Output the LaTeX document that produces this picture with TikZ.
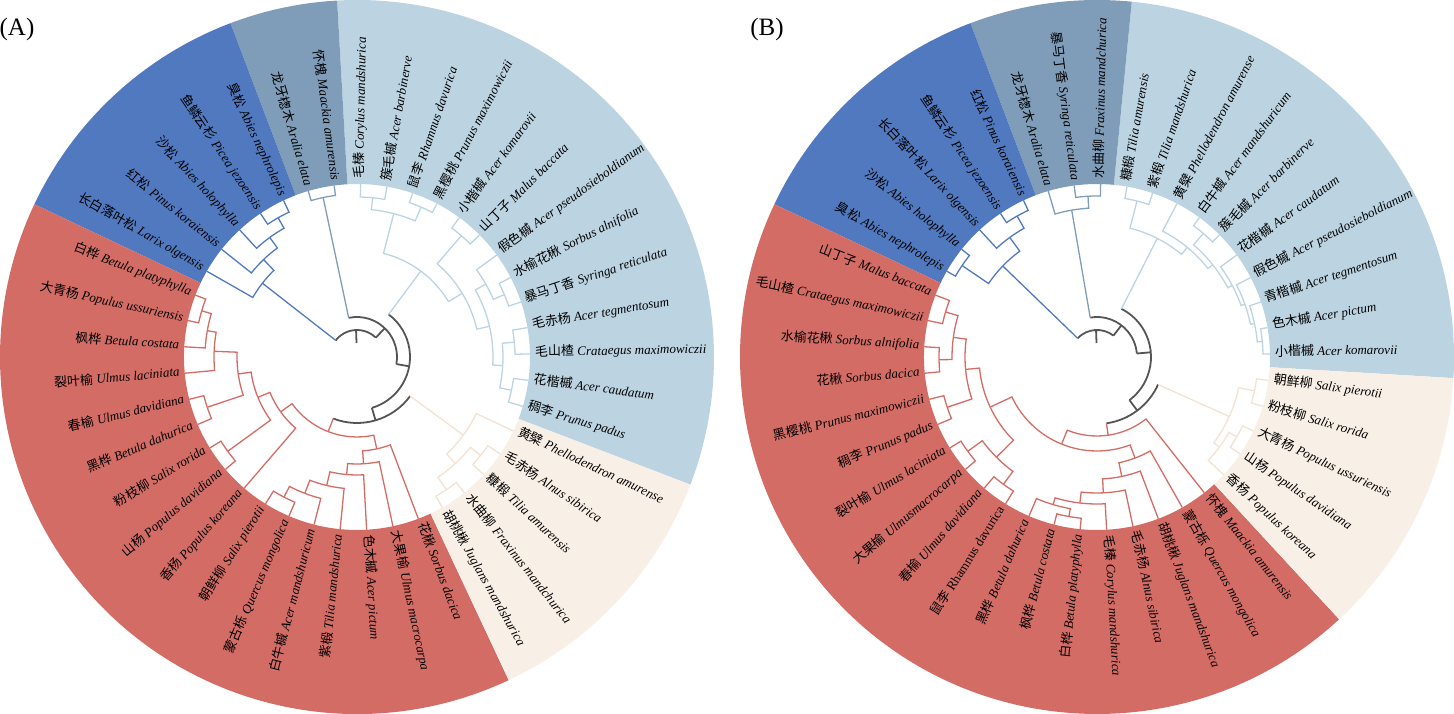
\documentclass[tikz,border=0pt]{standalone}
\usepackage{fontspec}
\setmainfont{Liberation Serif}
\newfontfamily\zhfont{Noto Sans CJK SC}
\usepackage{tikz}

\definecolor{secLB}{HTML}{BCD4E2}
\definecolor{secGB}{HTML}{7F9DB9}
\definecolor{secBL}{HTML}{5079BF}
\definecolor{secRD}{HTML}{D46C66}
\definecolor{secCR}{HTML}{F8EFE6}
\definecolor{lnCR}{HTML}{F2E2D3}
\definecolor{rootgray}{HTML}{555555}

\tikzset{
    lbl/.style={font=\fontsize{13}{15}\selectfont, inner sep=0pt},
    tag/.style={font=\fontsize{25}{29}\selectfont, inner sep=0pt},
    rootln/.style={color=rootgray, line width=1.8},
    lbln/.style={color=secLB, line width=1.3},
    gbln/.style={color=secGB, line width=1.3},
    blln/.style={color=secBL, line width=1.3},
    rdln/.style={color=secRD, line width=1.3},
    crln/.style={color=lnCR, line width=1.3}
}

% species label: chinese name + latin name
\newcommand{\spn}[2]{{\zhfont #1} \textit{#2}}
% coloured ring sector between two angles
\newcommand{\ringsec}[3]{\fill[#1] (#2:173) arc[start angle=#2,end angle=#3,radius=173] -- (#3:357) arc[start angle=#3,end angle=#2,radius=357] -- cycle;}
% elbow from parent (angle, radius) to child (angle, radius)
\newcommand{\brch}[4]{\draw (#1:#2) arc[start angle=#1,end angle=#3,radius=#2] -- (#3:#4);}
\newcommand{\hubarc}[3]{\draw[rootln] (#2:#1) arc[start angle=#2,end angle=#3,radius=#1];}
\newcommand{\stemln}[4]{\draw[#1] (#2:#3) -- (#2:#4);}
\newcommand{\leaflab}[3]{%
    \pgfmathtruncatemacro{\flip}{(#2>90 && #2<270) ? 1 : 0}%
    \ifnum\flip=1
        \node[lbl, anchor=mid east, rotate=#2-180] (#1) at (#2:178) {#3};%
    \else
        \node[lbl, anchor=mid west, rotate=#2] (#1) at (#2:178) {#3};%
    \fi}

\begin{document}
\begin{tikzpicture}[x=1pt, y=1pt]
\path[use as bounding box] (0,0) rectangle (1454,714);

\node[tag] (tagA) at (17,684) {(A)};
\node[tag] (tagB) at (767,684) {(B)};

% ---------------- tree A ----------------
\begin{scope}[shift={(357,357)}]
    \ringsec{secLB}{-20.95}{93.19}
    \ringsec{secGB}{93.19}{110.76}
    \ringsec{secBL}{110.76}{154.66}
    \ringsec{secRD}{154.66}{295.15}
    \ringsec{secCR}{295.15}{339.05}

    \stemln{rootln}{92}{14}{27}
    \hubarc{27}{142.04}{45.92}
    \stemln{blln}{142.04}{27}{120}
    \stemln{rootln}{45.92}{27}{40}
    \hubarc{40}{101.98}{-10.15}
    \stemln{gbln}{101.98}{40}{163}
    \stemln{rootln}{-10.15}{40}{53}
    \hubarc{53}{53.41}{-73.7}
    \stemln{lbln}{53.41}{53}{107}
    \stemln{rootln}{-73.7}{53}{66}
    \hubarc{66}{-36.32}{-111.09}
    \stemln{crln}{-36.32}{66}{132}
    \stemln{rdln}{-111.09}{66}{80}

    \begin{scope}[blln]
        \brch{142.04}{120}{133.81}{135}
        \brch{142.04}{120}{150.27}{173}
        \brch{133.81}{135}{126.13}{148}
        \brch{133.81}{135}{141.49}{173}
        \brch{126.13}{148}{119.54}{160}
        \brch{126.13}{148}{132.71}{173}
        \brch{119.54}{160}{115.15}{173}
        \brch{119.54}{160}{123.93}{173}
    \end{scope}
    \begin{scope}[gbln]
        \brch{101.98}{163}{97.59}{173}
        \brch{101.98}{163}{106.37}{173}
    \end{scope}
    \begin{scope}[lbln]
        \brch{53.41}{107}{75.63}{148}
        \brch{53.41}{107}{31.18}{123}
        \brch{75.63}{148}{84.41}{160}
        \brch{75.63}{148}{66.85}{163}
        \brch{84.41}{160}{88.80}{173}
        \brch{84.41}{160}{80.02}{173}
        \brch{66.85}{163}{71.24}{173}
        \brch{66.85}{163}{62.46}{173}
        \brch{31.18}{123}{49.29}{160}
        \brch{31.18}{123}{13.07}{136}
        \brch{49.29}{160}{53.68}{173}
        \brch{49.29}{160}{44.90}{173}
        \brch{13.07}{136}{29.54}{148}
        \brch{13.07}{136}{-3.39}{146}
        \brch{29.54}{148}{36.12}{173}
        \brch{29.54}{148}{22.95}{160}
        \brch{22.95}{160}{27.34}{173}
        \brch{22.95}{160}{18.56}{173}
        \brch{-3.39}{146}{5.39}{158}
        \brch{-3.39}{146}{-12.17}{158}
        \brch{5.39}{158}{9.78}{173}
        \brch{5.39}{158}{1.00}{173}
        \brch{-12.17}{158}{-7.78}{173}
        \brch{-12.17}{158}{-16.56}{173}
    \end{scope}
    \begin{scope}[crln]
        \brch{-36.32}{132}{-47.29}{145}
        \brch{-36.32}{132}{-25.34}{173}
        \brch{-47.29}{145}{-56.07}{160}
        \brch{-47.29}{145}{-38.51}{158}
        \brch{-56.07}{160}{-60.46}{173}
        \brch{-56.07}{160}{-51.68}{173}
        \brch{-38.51}{158}{-42.90}{173}
        \brch{-38.51}{158}{-34.12}{173}
    \end{scope}
    \begin{scope}[rdln]
        \brch{248.91}{80}{215.71}{94}
        \brch{248.91}{80}{282.12}{94}
        \brch{215.71}{94}{202.13}{107}
        \brch{215.71}{94}{229.29}{173}
        \brch{202.13}{107}{188.13}{120}
        \brch{202.13}{107}{216.12}{160}
        \brch{188.13}{120}{177.71}{143}
        \brch{188.13}{120}{198.56}{158}
        \brch{177.71}{143}{170.02}{152}
        \brch{177.71}{143}{185.39}{173}
        \brch{170.02}{152}{163.44}{162}
        \brch{170.02}{152}{176.61}{173}
        \brch{163.44}{162}{159.05}{173}
        \brch{163.44}{162}{167.83}{173}
        \brch{198.56}{158}{194.17}{173}
        \brch{198.56}{158}{202.95}{173}
        \brch{216.12}{160}{211.73}{173}
        \brch{216.12}{160}{220.51}{173}
        \brch{282.12}{94}{273.47}{107}
        \brch{282.12}{94}{290.76}{173}
        \brch{273.47}{107}{264.97}{118}
        \brch{273.47}{107}{281.98}{173}
        \brch{264.97}{118}{256.73}{132}
        \brch{264.97}{118}{273.20}{173}
        \brch{256.73}{132}{249.05}{146}
        \brch{256.73}{132}{264.41}{173}
        \brch{249.05}{146}{242.46}{158}
        \brch{249.05}{146}{255.63}{173}
        \brch{242.46}{158}{238.07}{173}
        \brch{242.46}{158}{246.85}{173}
    \end{scope}

    \leaflab{A-juglans}{-60.46}{\spn{胡桃楸}{Juglans mandshurica}}
    \leaflab{A-fraxinus}{-51.68}{\spn{水曲柳}{Fraxinus mandchurica}}
    \leaflab{A-tiliaam}{-42.90}{\spn{糠椴}{Tilia amurensis}}
    \leaflab{A-alnus}{-34.12}{\spn{毛赤杨}{Alnus sibirica}}
    \leaflab{A-phello}{-25.34}{\spn{黄檗}{Phellodendron amurense}}
    \leaflab{A-padus}{-16.56}{\spn{稠李}{Prunus padus}}
    \leaflab{A-caud}{-7.78}{\spn{花楷槭}{Acer caudatum}}
    \leaflab{A-crat}{1.00}{\spn{毛山楂}{Crataegus maximowiczii}}
    \leaflab{A-tegm}{9.78}{\spn{毛赤杨}{Acer tegmentosum}}
    \leaflab{A-syringa}{18.56}{\spn{暴马丁香}{Syringa reticulata}}
    \leaflab{A-alnif}{27.34}{\spn{水榆花楸}{Sorbus alnifolia}}
    \leaflab{A-pseudo}{36.12}{\spn{假色槭}{Acer pseudosieboldianum}}
    \leaflab{A-malus}{44.90}{\spn{山丁子}{Malus baccata}}
    \leaflab{A-komar}{53.68}{\spn{小楷槭}{Acer komarovii}}
    \leaflab{A-prmax}{62.46}{\spn{黑樱桃}{Prunus maximowiczii}}
    \leaflab{A-rhamn}{71.24}{\spn{鼠李}{Rhamnus davurica}}
    \leaflab{A-barb}{80.02}{\spn{簇毛槭}{Acer barbinerve}}
    \leaflab{A-coryl}{88.80}{\spn{毛榛}{Corylus mandshurica}}
    \leaflab{A-maack}{97.59}{\spn{怀槐}{Maackia amurensis}}
    \leaflab{A-aralia}{106.37}{\spn{龙牙楤木}{Aralia elata}}
    \leaflab{A-abneph}{115.15}{\spn{臭松}{Abies nephrolepis}}
    \leaflab{A-picea}{123.93}{\spn{鱼鳞云杉}{Picea jezoensis}}
    \leaflab{A-abhol}{132.71}{\spn{沙松}{Abies holophylla}}
    \leaflab{A-pinus}{141.49}{\spn{红松}{Pinus koraiensis}}
    \leaflab{A-larix}{150.27}{\spn{长白落叶松}{Larix olgensis}}
    \leaflab{A-betpla}{159.05}{\spn{白桦}{Betula platyphylla}}
    \leaflab{A-popuss}{167.83}{\spn{大青杨}{Populus ussuriensis}}
    \leaflab{A-betcos}{176.61}{\spn{枫桦}{Betula costata}}
    \leaflab{A-ulmlac}{185.39}{\spn{裂叶榆}{Ulmus laciniata}}
    \leaflab{A-ulmdav}{194.17}{\spn{春榆}{Ulmus davidiana}}
    \leaflab{A-betdah}{202.95}{\spn{黑桦}{Betula dahurica}}
    \leaflab{A-salror}{211.73}{\spn{粉枝柳}{Salix rorida}}
    \leaflab{A-popdav}{220.51}{\spn{山杨}{Populus davidiana}}
    \leaflab{A-popkor}{229.29}{\spn{香杨}{Populus koreana}}
    \leaflab{A-salpie}{238.07}{\spn{朝鲜柳}{Salix pierotii}}
    \leaflab{A-querc}{246.85}{\spn{蒙古栎}{Quercus mongolica}}
    \leaflab{A-acmand}{255.63}{\spn{白牛槭}{Acer mandshuricum}}
    \leaflab{A-tilman}{264.41}{\spn{紫椴}{Tilia mandshurica}}
    \leaflab{A-pictum}{273.20}{\spn{色木槭}{Acer pictum}}
    \leaflab{A-ulmmac}{281.98}{\spn{大果榆}{Ulmus macrocarpa}}
    \leaflab{A-sordac}{290.76}{\spn{花楸}{Sorbus dacica}}
\end{scope}

% ---------------- tree B ----------------
\begin{scope}[shift={(1097,357)}]
    \ringsec{secLB}{-3.39}{84.41}
    \ringsec{secGB}{84.41}{110.76}
    \ringsec{secBL}{110.76}{154.66}
    \ringsec{secRD}{154.66}{312.71}
    \ringsec{secCR}{312.71}{356.61}

    \stemln{rootln}{92}{14}{27}
    \hubarc{27}{136.0}{52.39}
    \stemln{blln}{136.0}{27}{131}
    \stemln{rootln}{52.39}{27}{40}
    \hubarc{40}{99.78}{5.0}
    \stemln{gbln}{99.78}{40}{149}
    \stemln{rootln}{5.0}{40}{54}
    \hubarc{54}{63.08}{-53.07}
    \stemln{lbln}{63.08}{54}{133}
    \stemln{rootln}{-53.07}{54}{67}
    \hubarc{67}{-24.24}{-81.9}
    \stemln{crln}{-24.24}{67}{145}
    \stemln{rdln}{-81.9}{67}{79}

    \begin{scope}[blln]
        \brch{136.0}{131}{126.13}{148}
        \brch{136.0}{131}{145.88}{163}
        \brch{126.13}{148}{119.54}{162}
        \brch{126.13}{148}{132.71}{173}
        \brch{119.54}{162}{115.15}{173}
        \brch{119.54}{162}{123.93}{173}
        \brch{145.88}{163}{141.49}{173}
        \brch{145.88}{163}{150.27}{173}
    \end{scope}
    \begin{scope}[gbln]
        \brch{99.78}{149}{93.20}{161}
        \brch{99.78}{149}{106.37}{173}
        \brch{93.20}{161}{88.80}{173}
        \brch{93.20}{161}{97.59}{173}
    \end{scope}
    \begin{scope}[lbln]
        \brch{63.08}{133}{75.63}{161}
        \brch{63.08}{133}{50.53}{142}
        \brch{75.63}{161}{80.02}{173}
        \brch{75.63}{161}{71.24}{173}
        \brch{50.53}{142}{62.46}{173}
        \brch{50.53}{142}{38.59}{148}
        \brch{38.59}{148}{49.29}{163}
        \brch{38.59}{148}{27.89}{153}
        \brch{49.29}{163}{53.68}{173}
        \brch{49.29}{163}{44.90}{173}
        \brch{27.89}{153}{36.12}{173}
        \brch{27.89}{153}{19.66}{157}
        \brch{19.66}{157}{27.34}{173}
        \brch{19.66}{157}{11.98}{161}
        \brch{11.98}{161}{18.56}{173}
        \brch{11.98}{161}{5.39}{166}
        \brch{5.39}{166}{9.78}{173}
        \brch{5.39}{166}{1.00}{173}
    \end{scope}
    \begin{scope}[crln]
        \brch{-24.24}{145}{-12.17}{161}
        \brch{-24.24}{145}{-36.32}{152}
        \brch{-12.17}{161}{-7.78}{173}
        \brch{-12.17}{161}{-16.56}{173}
        \brch{-36.32}{152}{-29.73}{161}
        \brch{-36.32}{152}{-42.90}{173}
        \brch{-29.73}{161}{-25.34}{173}
        \brch{-29.73}{161}{-34.12}{173}
    \end{scope}
    \begin{scope}[rdln]
        \brch{278.1}{79}{247.89}{94}
        \brch{278.1}{79}{308.32}{173}
        \brch{247.89}{94}{205.15}{118}
        \brch{247.89}{94}{290.62}{108}
        \brch{205.15}{118}{185.39}{132}
        \brch{205.15}{118}{224.90}{142}
        \brch{185.39}{132}{172.22}{145}
        \brch{185.39}{132}{198.56}{158}
        \brch{172.22}{145}{163.44}{158}
        \brch{172.22}{145}{181.00}{158}
        \brch{163.44}{158}{159.05}{173}
        \brch{163.44}{158}{167.83}{173}
        \brch{181.00}{158}{176.61}{173}
        \brch{181.00}{158}{185.39}{173}
        \brch{198.56}{158}{194.17}{173}
        \brch{198.56}{158}{202.95}{173}
        \brch{224.90}{142}{216.12}{160}
        \brch{224.90}{142}{233.68}{158}
        \brch{216.12}{160}{211.73}{173}
        \brch{216.12}{160}{220.51}{173}
        \brch{233.68}{158}{229.29}{173}
        \brch{233.68}{158}{238.07}{173}
        \brch{290.62}{108}{281.71}{122}
        \brch{290.62}{108}{299.54}{173}
        \brch{281.71}{122}{272.65}{136}
        \brch{281.71}{122}{290.76}{173}
        \brch{272.65}{136}{263.32}{147}
        \brch{272.65}{136}{281.98}{173}
        \brch{263.32}{147}{253.44}{154}
        \brch{263.32}{147}{273.20}{173}
        \brch{253.44}{154}{246.85}{173}
        \brch{253.44}{154}{260.02}{162}
        \brch{260.02}{162}{255.63}{173}
        \brch{260.02}{162}{264.41}{173}
    \end{scope}

    \leaflab{B-komar}{1.00}{\spn{小楷槭}{Acer komarovii}}
    \leaflab{B-pictum}{9.78}{\spn{色木槭}{Acer pictum}}
    \leaflab{B-tegm}{18.56}{\spn{青楷槭}{Acer tegmentosum}}
    \leaflab{B-pseudo}{27.34}{\spn{假色槭}{Acer pseudosieboldianum}}
    \leaflab{B-caud}{36.12}{\spn{花楷槭}{Acer caudatum}}
    \leaflab{B-barb}{44.90}{\spn{簇毛槭}{Acer barbinerve}}
    \leaflab{B-acmand}{53.68}{\spn{白牛槭}{Acer mandshuricum}}
    \leaflab{B-phello}{62.46}{\spn{黄檗}{Phellodendron amurense}}
    \leaflab{B-tilman}{71.24}{\spn{紫椴}{Tilia mandshurica}}
    \leaflab{B-tiliaam}{80.02}{\spn{糠椴}{Tilia amurensis}}
    \leaflab{B-fraxinus}{88.80}{\spn{水曲柳}{Fraxinus mandchurica}}
    \leaflab{B-syringa}{97.59}{\spn{暴马丁香}{Syringa reticulata}}
    \leaflab{B-aralia}{106.37}{\spn{龙牙楤木}{Aralia elata}}
    \leaflab{B-pinus}{115.15}{\spn{红松}{Pinus koraiensis}}
    \leaflab{B-picea}{123.93}{\spn{鱼鳞云杉}{Picea jezoensis}}
    \leaflab{B-larix}{132.71}{\spn{长白落叶松}{Larix olgensis}}
    \leaflab{B-abhol}{141.49}{\spn{沙松}{Abies holophylla}}
    \leaflab{B-abneph}{150.27}{\spn{臭松}{Abies nephrolepis}}
    \leaflab{B-malus}{159.05}{\spn{山丁子}{Malus baccata}}
    \leaflab{B-crat}{167.83}{\spn{毛山楂}{Crataegus maximowiczii}}
    \leaflab{B-alnif}{176.61}{\spn{水榆花楸}{Sorbus alnifolia}}
    \leaflab{B-sordac}{185.39}{\spn{花楸}{Sorbus dacica}}
    \leaflab{B-prmax}{194.17}{\spn{黑樱桃}{Prunus maximowiczii}}
    \leaflab{B-padus}{202.95}{\spn{稠李}{Prunus padus}}
    \leaflab{B-ulmlac}{211.73}{\spn{裂叶榆}{Ulmus laciniata}}
    \leaflab{B-ulmmac}{220.51}{\spn{大果榆}{Ulmusmacrocarpa}}
    \leaflab{B-ulmdav}{229.29}{\spn{春榆}{Ulmus davidiana}}
    \leaflab{B-rhamn}{238.07}{{\zhfont 鼠李} Rhamnus davurica}
    \leaflab{B-betdah}{246.85}{\spn{黑桦}{Betula dahurica}}
    \leaflab{B-betcos}{255.63}{\spn{枫桦}{Betula costata}}
    \leaflab{B-betpla}{264.41}{\spn{白桦}{Betula platyphylla}}
    \leaflab{B-coryl}{273.20}{\spn{毛榛}{Corylus mandshurica}}
    \leaflab{B-alnus}{281.98}{\spn{毛赤杨}{Alnus sibirica}}
    \leaflab{B-juglans}{290.76}{\spn{胡桃楸}{Juglans mandshurica}}
    \leaflab{B-querc}{299.54}{\spn{蒙古栎}{Quercus mongolica}}
    \leaflab{B-maack}{308.32}{\spn{怀槐}{Maackia amurensis}}
    \leaflab{B-popkor}{-42.90}{\spn{香杨}{Populus koreana}}
    \leaflab{B-popdav}{-34.12}{\spn{山杨}{Populus davidiana}}
    \leaflab{B-popuss}{-25.34}{\spn{大青杨}{Populus ussuriensis}}
    \leaflab{B-salror}{-16.56}{\spn{粉枝柳}{Salix rorida}}
    \leaflab{B-salpie}{-7.78}{\spn{朝鲜柳}{Salix pierotii}}
\end{scope}
\end{tikzpicture}
\end{document}
